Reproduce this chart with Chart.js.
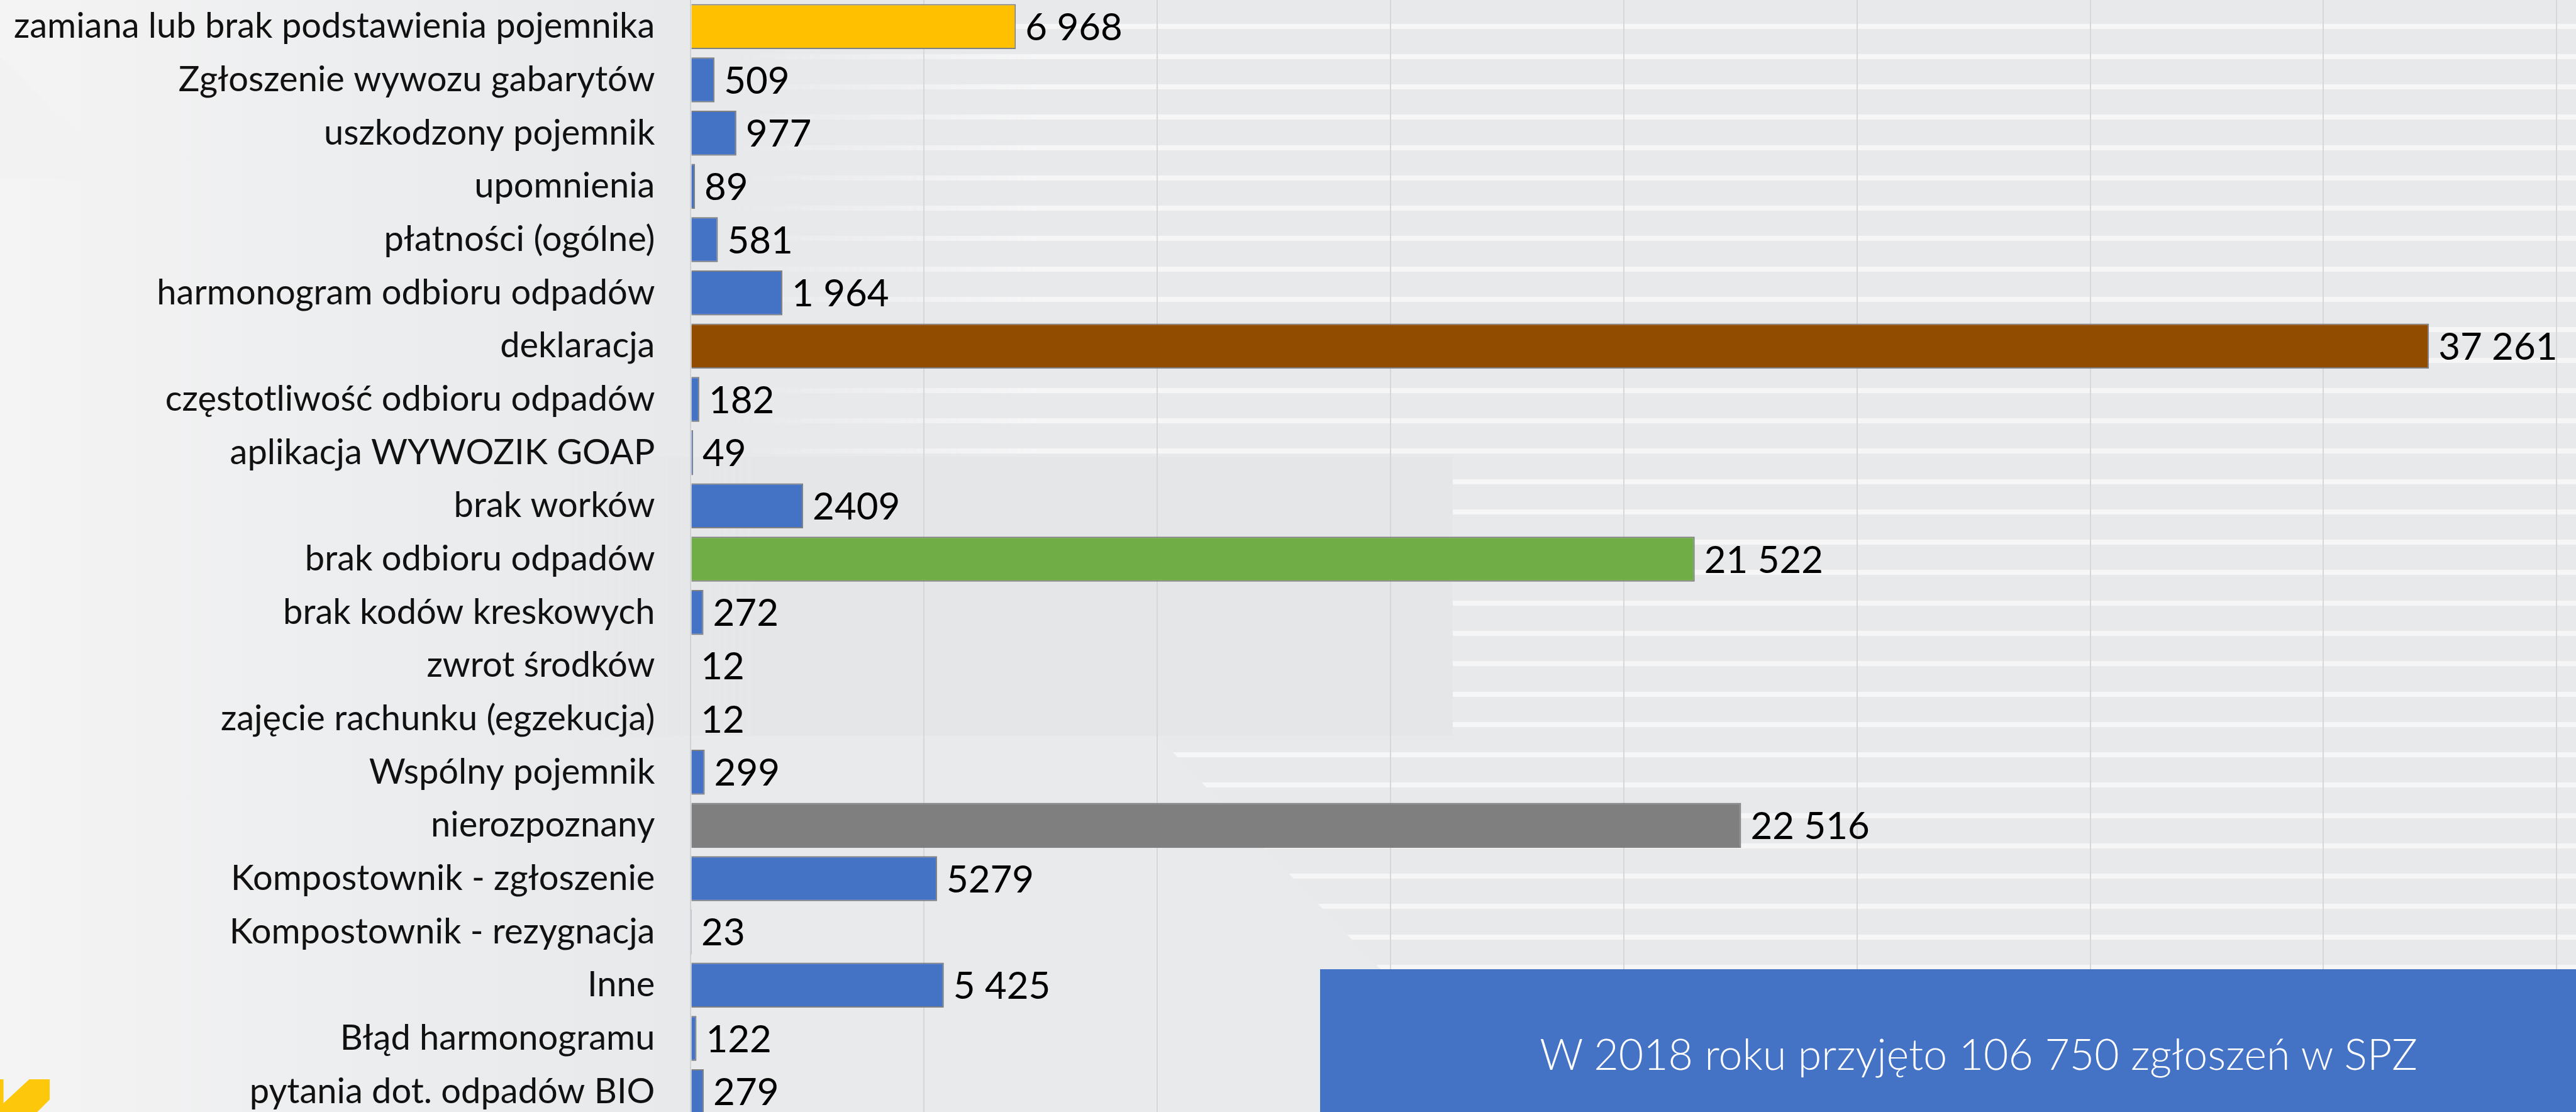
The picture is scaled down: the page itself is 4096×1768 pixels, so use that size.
<!doctype html>
<html lang="pl">
<head>
<meta charset="utf-8">
<title>Zgłoszenia w SPZ 2018</title>
<script src="https://cdn.jsdelivr.net/npm/chart.js@4.4.1/dist/chart.umd.min.js"></script>
<style>
  html, body { margin: 0; padding: 0; overflow: hidden; width: 4096px; height: 1768px; }
  body { position: relative; background: linear-gradient(to right, #f4f4f5 0px, #ecedee 600px, #e8e9eb 1100px); font-family: Lato, "Open Sans", sans-serif; }
  .layer { position: absolute; pointer-events: none; }
  /* background decoration from the slide template */
  .stripes { left: 0; top: 0; width: 4096px; height: 1768px;
    background: repeating-linear-gradient(180deg, transparent 0 37.6px, rgba(248,248,249,.85) 37.6px 45.6px, transparent 45.6px 48.27px);
    -webkit-mask-image: linear-gradient(to right, transparent 1150px, #000 1650px);
    mask-image: linear-gradient(to right, transparent 1150px, #000 1650px); }
  .tri { left: 0; top: 91px; width: 198px; height: 193px; background: #f2f2f3; clip-path: polygon(0 0, 100% 100%, 0 100%); }
  .slab { left: 900px; top: 726px; width: 1410px; height: 444px; background: #e5e6e8;
    -webkit-mask-image: linear-gradient(to right, transparent 0, #000 300px);
    mask-image: linear-gradient(to right, transparent 0, #000 300px); }
  .wedge { left: 1100px; top: 1170px; width: 1320px; height: 598px; background: #e9eaec;
    clip-path: polygon(0 0, 740px 0, 1312px 598px, 0 598px); }
  .logo { left: 0; top: 1716px; width: 79px; height: 52px; background: #fdc70c;
    clip-path: polygon(0 0, 7% 0, 7% 73%, 59% 0, 100% 0, 100% 62%, 75% 100%, 0 100%); }
  canvas { position: absolute; left: 0; top: 0; }
  .note { position: absolute; left: 2099px; top: 1541px; width: 2094px; height: 260px; background: #4472c4;
    color: #fff; text-align: center; font-weight: 300; font-size: 68px; line-height: 86px; padding-top: 91px; box-sizing: border-box; white-space: nowrap; }
</style>
</head>
<body>
<div class="layer stripes"></div>
<div class="layer tri"></div>
<div class="layer slab"></div>
<div class="layer wedge"></div>
<div class="layer logo"></div>
<canvas id="chart" width="4096" height="1778"></canvas>
<div class="note">W 2018 roku przyjęto 106 750 zgłoszeń w SPZ</div>
<script>
const categories = [
  "zamiana lub brak podstawienia pojemnika",
  "Zgłoszenie wywozu gabarytów",
  "uszkodzony pojemnik",
  "upomnienia",
  "płatności (ogólne)",
  "harmonogram odbioru odpadów",
  "deklaracja",
  "częstotliwość odbioru odpadów",
  "aplikacja WYWOZIK GOAP",
  "brak worków",
  "brak odbioru odpadów",
  "brak kodów kreskowych",
  "zwrot środków",
  "zajęcie rachunku (egzekucja)",
  "Wspólny pojemnik",
  "nierozpoznany",
  "Kompostownik - zgłoszenie",
  "Kompostownik - rezygnacja",
  "Inne",
  "Błąd harmonogramu",
  "pytania dot. odpadów BIO",
];
const values = [6968, 509, 977, 89, 581, 1964, 37261, 182, 49, 2409, 21522, 272, 12, 12, 299, 22516, 5279, 23, 5425, 122, 279];
// labels as printed on the slide (thousand separators are not consistent there)
const valueLabels = ["6 968", "509", "977", "89", "581", "1 964", "37 261", "182", "49", "2409", "21 522", "272", "12", "12", "299", "22 516", "5279", "23", "5 425", "122", "279"];
const xTicks = { min: 0, max: 40000, step: 5000 };

const BLUE = "#4472c4";
const highlight = { 0: "#ffc000", 6: "#914c00", 10: "#70ad47", 15: "#7f7f7f" };
const barColors = categories.map((_, i) => highlight[i] || BLUE);

const FONT = "Lato, 'Open Sans', sans-serif";
const FONT_SIZE = 56;
const VALUE_SIZE = 60;

const valueLabelPlugin = {
  id: "valueLabels",
  afterDatasetsDraw(chart) {
    const ctx = chart.ctx;
    const meta = chart.getDatasetMeta(0);
    ctx.save();
    ctx.font = `${VALUE_SIZE}px ${FONT}`;
    ctx.fillStyle = "#000";
    ctx.textAlign = "left";
    ctx.textBaseline = "alphabetic";
    meta.data.forEach((bar, i) => {
      ctx.fillText(valueLabels[i], bar.x + 15, bar.y + VALUE_SIZE * 0.36);
    });
    ctx.restore();
  },
};

new Chart(document.getElementById("chart"), {
  type: "bar",
  data: {
    labels: categories,
    datasets: [{
      data: values,
      backgroundColor: barColors,
      borderColor: "#808080",
      borderWidth: 2,
      barPercentage: 0.844,
      categoryPercentage: 1,
    }],
  },
  options: {
    indexAxis: "y",
    responsive: false,
    animation: false,
    devicePixelRatio: 1,
    layout: { padding: { left: 0, right: 30.7, top: 0, bottom: 0 } },
    plugins: { legend: { display: false }, tooltip: { enabled: false } },
    scales: {
      x: {
        min: xTicks.min,
        max: xTicks.max,
        ticks: { stepSize: xTicks.step, display: false },
        grid: { color: "#d6d7d9", lineWidth: 2, drawTicks: false },
        border: { display: false },
        afterFit: (s) => { s.height = 0; },
      },
      y: {
        ticks: { autoSkip: false, padding: 57, color: "#111", font: { family: FONT, size: FONT_SIZE } },
        grid: { display: false, drawTicks: false },
        border: { color: "#d0d1d3", width: 2 },
        // fixed label column; no extra top/bottom padding so rows fill the full height
        afterFit: (s) => { s.width = 1098.4; s.paddingTop = 0; s.paddingBottom = 0; },
      },
    },
  },
  plugins: [valueLabelPlugin],
});
</script>
</body>
</html>
